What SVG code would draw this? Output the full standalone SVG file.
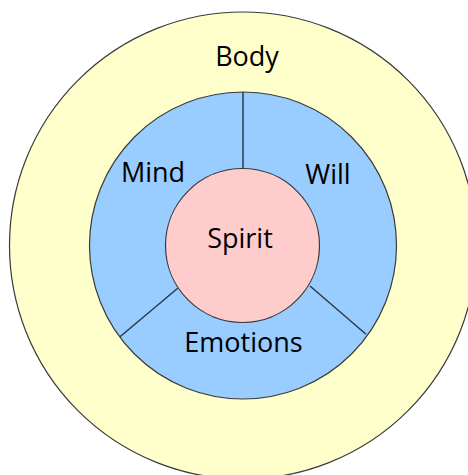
<svg xmlns="http://www.w3.org/2000/svg" width="468" height="475" viewBox="0 0 468 475">
<style>
.ring{stroke:#3a3a3a;stroke-width:1.2}
.div{stroke:#2e3a45;stroke-width:1.5;fill:none}
text{font-family:"Open Sans","Noto Sans",sans-serif;font-size:27px;fill:#000;text-anchor:middle}
</style>
<rect width="468" height="475" fill="#ffffff"/>
<g id="body">
<circle class="ring" cx="243" cy="245.5" r="233.5" fill="#ffffcc"/>
<text x="247" y="66">Body</text>
</g>
<g id="soul">
<circle class="ring" cx="243" cy="245.5" r="153.5" fill="#99ccff"/>
</g>
<g id="connectors">
<line class="div" x1="243" y1="92" x2="243" y2="168"/>
<line class="div" x1="177.7" y1="288.3" x2="120" y2="336.7"/>
<line class="div" x1="310" y1="286" x2="366" y2="334.3"/>
</g>
<g id="mind"><text x="153" y="182">Mind</text></g>
<g id="will"><text x="328" y="184">Will</text></g>
<g id="emotions"><text x="243.5" y="352">Emotions</text></g>
<g id="spirit">
<circle class="ring" cx="242.5" cy="245.5" r="77" fill="#ffcccc"/>
<text x="240" y="248">Spirit</text>
</g>
</svg>
